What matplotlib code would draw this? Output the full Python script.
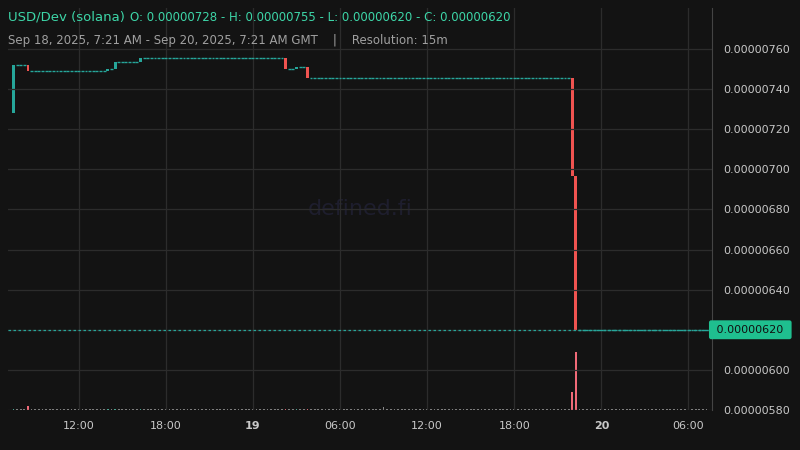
import matplotlib
matplotlib.use("Agg")
import matplotlib.pyplot as plt
import matplotlib.dates as mdates
import pandas as pd
import numpy as np

# runs of candles: (count, open, close) in 1e-8 units
runs = [(1, 728, 752), (3, 752, 752), (1, 752, 749), (21, 749, 749), (1, 749, 750),
        (1, 750, 750), (1, 750, 753.5), (6, 753.5, 753.5), (1, 753.5, 755.5),
        (39, 755.5, 755.5), (1, 755.5, 750), (2, 750, 750), (1, 750, 751),
        (2, 751, 751), (1, 751, 745.5), (72, 745.5, 745.5), (1, 745.5, 696.7),
        (1, 696.7, 620), (36, 620, 620)]
vol_spikes = {4: 4, 102: 3, 154: 18, 155: 58}
vol_base = 1.0
yticks = [580, 600, 620, 640, 660, 680, 700, 720, 740, 760]
xtick_times = ["2025-09-18 12:00", "2025-09-18 18:00", "2025-09-19 00:00", "2025-09-19 06:00",
               "2025-09-19 12:00", "2025-09-19 18:00", "2025-09-20 00:00", "2025-09-20 06:00"]
xtick_labels = ["12:00", "18:00", "19", "06:00", "12:00", "18:00", "20", "06:00"]
last_price = 620

opens, closes = [], []
for n, o, c in runs:
    opens += [o] * n
    closes += [c] * n
opens = np.array(opens); closes = np.array(closes)
N = len(opens)
times = pd.date_range("2025-09-18 07:30", periods=N, freq="15min")
x = mdates.date2num(times)
step = x[1] - x[0]
w = step * 0.8
vols = np.array([vol_spikes.get(i, vol_base) for i in range(N)])

BG = "#131313"
UP = "#26a69a"; DN = "#ef5350"
fig = plt.figure(figsize=(8, 4.5), dpi=100, facecolor=BG)
ax = fig.add_axes([0.01, 0.0889, 0.88, 0.8933], facecolor=BG)
axv = ax.twinx()
axv.set_zorder(0); ax.set_zorder(1); ax.patch.set_visible(False)
axv.patch.set_facecolor(BG)

# volume
vcol = ["#f06a78" if c < o else ("#4fb59f" if c > o else "#8a8a8a") for o, c in zip(opens, closes)]
axv.bar(x, vols, width=w * 0.6, color=vcol)
axv.set_ylim(0, 402)
axv.set_yticks([])
for s in axv.spines.values(): s.set_visible(False)

# candles
for xi, o, c in zip(x, opens, closes):
    if o == c:
        ax.hlines(o, xi - w / 2, xi + w / 2, color=UP, lw=1.0)
    else:
        col = UP if c > o else DN
        ax.bar(xi, abs(c - o), bottom=min(o, c), width=w, color=col, lw=0)

ax.axhline(last_price, color=UP, lw=0.9, ls=(0, (2, 2)))
ax.set_ylim(580, 780.4)
ax.set_xlim(x[0] - 1.5 * step, x[-1] + 1.5 * step)
ax.yaxis.tick_right()
ax.set_yticks(yticks)
ax.set_yticklabels(["" if v == last_price else f"0.{v:08d}" for v in yticks])
xt = mdates.date2num(pd.to_datetime(xtick_times))
ax.set_xticks(xt)
ax.set_xticklabels(xtick_labels)
for lbl in ax.get_xticklabels():
    if lbl.get_text() in ("19", "20"):
        lbl.set_fontweight("bold")
ax.grid(True, color="#2c2c2c", lw=0.9)
ax.tick_params(colors="#c8c8c8", labelsize=8, length=0, pad=8)
for s in ["top", "left", "bottom"]:
    ax.spines[s].set_visible(False)
ax.spines["right"].set_color("#444444")

ax.text(1.002, (last_price - 580) / 200.4, f" 0.{last_price:08d} ", transform=ax.transAxes,
        fontsize=8, color="#111111", va="center", ha="left", zorder=10,
        bbox=dict(boxstyle="round,pad=0.4,rounding_size=0.2", fc="#1fbf8f", ec="none"))

ax.text(0.5, 0.5, "defined.fi", transform=ax.transAxes, fontsize=16, color="#1e1e2e",
        ha="center", va="center", zorder=0)

fig.text(0.01, 0.962, "USD/Dev (solana)", color="#3dd6a8", fontsize=9.5, va="center")
fig.text(0.163, 0.962, "O: 0.00000728 - H: 0.00000755 - L: 0.00000620 - C: 0.00000620",
         color="#3dd6a8", fontsize=8.5, va="center")
fig.text(0.01, 0.91, "Sep 18, 2025, 7:21 AM - Sep 20, 2025, 7:21 AM GMT    |    Resolution: 15m",
         color="#a0a0a0", fontsize=8.5, va="center")

fig.savefig("out.png", dpi=100, facecolor=BG)
